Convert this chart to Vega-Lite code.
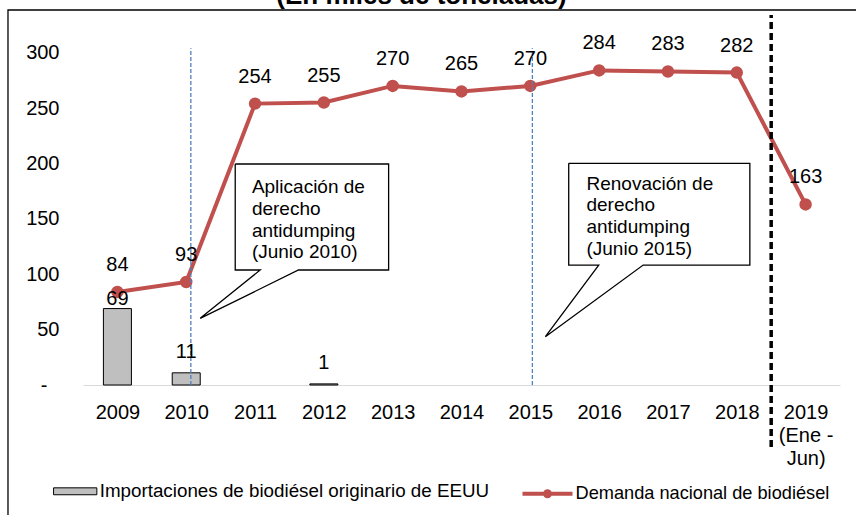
{
  "$schema": "https://vega.github.io/schema/vega-lite/v6.json",
  "width": 757,
  "height": 370,
  "autosize": {"type": "none"},
  "padding": {"left": 83, "top": 15, "right": 16, "bottom": 130},
  "background": "white",
  "title": {
    "text": "(En miles de toneladas)",
    "fontSize": 26,
    "fontWeight": "bold",
    "font": "Liberation Sans",
    "anchor": "middle",
    "frame": "group",
    "dx": -40,
    "offset": 0,
    "color": "black"
  },
  "datasets": {
    "imports": [
      {"year": 2009, "value": 69, "serie": "Importaciones de biodiésel originario de EEUU"},
      {"year": 2010, "value": 11, "serie": "Importaciones de biodiésel originario de EEUU"},
      {"year": 2012, "value": 1, "serie": "Importaciones de biodiésel originario de EEUU"}
    ],
    "demand": [
      {"year": 2009, "value": 84, "serie": "Demanda nacional de biodiésel"},
      {"year": 2010, "value": 93, "serie": "Demanda nacional de biodiésel"},
      {"year": 2011, "value": 254, "serie": "Demanda nacional de biodiésel"},
      {"year": 2012, "value": 255, "serie": "Demanda nacional de biodiésel"},
      {"year": 2013, "value": 270, "serie": "Demanda nacional de biodiésel"},
      {"year": 2014, "value": 265, "serie": "Demanda nacional de biodiésel"},
      {"year": 2015, "value": 270, "serie": "Demanda nacional de biodiésel"},
      {"year": 2016, "value": 284, "serie": "Demanda nacional de biodiésel"},
      {"year": 2017, "value": 283, "serie": "Demanda nacional de biodiésel"},
      {"year": 2018, "value": 282, "serie": "Demanda nacional de biodiésel"},
      {"year": 2019, "value": 163, "serie": "Demanda nacional de biodiésel"}
    ],
    "bluerules": [
      {"year": 2010.067, "low": 0, "high": 304},
      {"year": 2015.03, "low": 0, "high": 304}
    ],
    "blackrule": [
      {"year": 2018.5, "low": -56, "high": 334}
    ],
    "callouts": [
      {"id": 1, "ord": 1, "year": 2010.712, "value": 199.5},
      {"id": 1, "ord": 2, "year": 2012.941, "value": 199.5},
      {"id": 1, "ord": 3, "year": 2012.941, "value": 103.8},
      {"id": 1, "ord": 4, "year": 2011.632, "value": 103.8},
      {"id": 1, "ord": 5, "year": 2010.203, "value": 60.2},
      {"id": 1, "ord": 6, "year": 2011.075, "value": 103.8},
      {"id": 1, "ord": 7, "year": 2010.712, "value": 103.8},
      {"id": 1, "ord": 8, "year": 2010.712, "value": 199.5},
      {"id": 2, "ord": 1, "year": 2015.558, "value": 200.1},
      {"id": 2, "ord": 2, "year": 2018.19, "value": 200.1},
      {"id": 2, "ord": 3, "year": 2018.19, "value": 108.3},
      {"id": 2, "ord": 4, "year": 2016.64, "value": 108.3},
      {"id": 2, "ord": 5, "year": 2015.219, "value": 43.6},
      {"id": 2, "ord": 6, "year": 2015.994, "value": 108.3},
      {"id": 2, "ord": 7, "year": 2015.558, "value": 108.3},
      {"id": 2, "ord": 8, "year": 2015.558, "value": 200.1}
    ],
    "callouttext": [
      {"year": 2010.954, "value": 173.3, "label": "Aplicación de\nderecho\nantidumping\n(Junio 2010)"},
      {"year": 2015.816, "value": 176.3, "label": "Renovación de\nderecho\nantidumping\n(Junio 2015)"}
    ],
    "border": [
      {"x1": 2007.41, "x2": 2021.5, "y1": -250, "y2": 338.5}
    ]
  },
  "layer": [
    {
      "data": {"name": "imports"},
      "mark": {"type": "bar", "size": 28, "stroke": "black", "strokeWidth": 1},
      "encoding": {
        "x": {
          "field": "year", "type": "quantitative",
          "scale": {"domain": [2008.5, 2019.5], "nice": false, "zero": false, "padding": 0},
          "axis": {
            "title": null,
            "values": [2009, 2010, 2011, 2012, 2013, 2014, 2015, 2016, 2017, 2018, 2019],
            "format": "d",
            "labelExpr": "datum.value == 2019 ? ['2019', '(Ene -', 'Jun)'] : datum.label",
            "labelFontSize": 20,
            "labelFont": "Liberation Sans",
            "labelColor": "black",
            "labelPadding": 17,
            "labelLineHeight": 23.3,
            "labelFlush": false,
            "labelOverlap": false,
            "ticks": false,
            "grid": false,
            "domain": true,
            "domainColor": "#d9d9d9",
            "domainWidth": 1.2
          }
        },
        "y": {
          "field": "value", "type": "quantitative",
          "scale": {"domain": [0, 334], "nice": false, "padding": 0},
          "axis": {
            "title": null,
            "values": [0, 50, 100, 150, 200, 250, 300],
            "labelExpr": "datum.value == 0 ? '-' : datum.label",
            "labelFontSize": 20,
            "labelFont": "Liberation Sans",
            "labelColor": "black",
            "labelPadding": {"condition": {"test": "datum.value == 0", "value": 36}, "value": 24},
            "ticks": false,
            "grid": false,
            "domain": false
          }
        },
        "color": {
          "field": "serie", "type": "nominal",
          "scale": {
            "domain": ["Importaciones de biodiésel originario de EEUU"],
            "range": ["#bfbfbf"]
          },
          "legend": {
            "title": null,
            "orient": "none",
            "direction": "horizontal",
            "legendX": -30.3,
            "legendY": 453.8,
            "padding": 0,
            "symbolType": "M-1,-0.16H1V0.16H-1Z",
            "symbolSize": 1875,
            "symbolStrokeColor": "black",
            "symbolStrokeWidth": 1,
            "symbolOpacity": 1,
            "labelOffset": 2,
            "labelFontSize": 18.8,
            "labelFont": "Liberation Sans",
            "labelColor": "black",
            "labelLimit": 1000
          }
        }
      }
    },
    {
      "data": {"name": "demand"},
      "mark": {"type": "line", "strokeWidth": 4, "point": {"filled": true, "size": 110, "fill": "#c0504d"}},
      "encoding": {
        "x": {"field": "year", "type": "quantitative", "axis": {"title": null}},
        "y": {"field": "value", "type": "quantitative", "axis": {"title": null}},
        "stroke": {
          "field": "serie", "type": "nominal",
          "scale": {"domain": ["Demanda nacional de biodiésel"], "range": ["#c0504d"]},
          "legend": {
            "title": null,
            "orient": "none",
            "direction": "horizontal",
            "legendX": 437.5,
            "legendY": 451.7,
            "padding": 0,
            "symbolType": "M-1,0H1M0.1,0A0.1,0.1,0,1,1,-0.1,0A0.1,0.1,0,1,1,0.1,0",
            "symbolSize": 2500,
            "symbolStrokeWidth": 4,
            "symbolFillColor": "#c0504d",
            "symbolOpacity": 1,
            "labelOffset": 1,
            "labelFontSize": 18.2,
            "labelFont": "Liberation Sans",
            "labelColor": "black",
            "labelLimit": 1000
          }
        }
      }
    },
    {
      "data": {"name": "bluerules"},
      "mark": {"type": "rule", "color": "#4f81bd", "strokeWidth": 1.3, "strokeDash": [4, 2]},
      "encoding": {
        "x": {"field": "year", "type": "quantitative", "axis": {"title": null}},
        "y": {"field": "low", "type": "quantitative", "axis": {"title": null}},
        "y2": {"field": "high"}
      }
    },
    {
      "data": {"name": "demand"},
      "mark": {"type": "text", "dy": -27, "fontSize": 20, "font": "Liberation Sans", "baseline": "middle", "color": "black"},
      "encoding": {
        "x": {"field": "year", "type": "quantitative", "axis": {"title": null}},
        "y": {"field": "value", "type": "quantitative", "axis": {"title": null}},
        "text": {"field": "value", "type": "quantitative"}
      }
    },
    {
      "data": {"name": "imports"},
      "transform": [{"filter": "datum.year == 2009"}],
      "mark": {"type": "text", "dy": -10, "fontSize": 20, "font": "Liberation Sans", "baseline": "middle", "color": "black"},
      "encoding": {
        "x": {"field": "year", "type": "quantitative", "axis": {"title": null}},
        "y": {"field": "value", "type": "quantitative", "axis": {"title": null}},
        "text": {"field": "value", "type": "quantitative"}
      }
    },
    {
      "data": {"name": "imports"},
      "transform": [{"filter": "datum.year != 2009"}],
      "mark": {"type": "text", "dy": -21, "fontSize": 20, "font": "Liberation Sans", "baseline": "middle", "color": "black"},
      "encoding": {
        "x": {"field": "year", "type": "quantitative", "axis": {"title": null}},
        "y": {"field": "value", "type": "quantitative", "axis": {"title": null}},
        "text": {"field": "value", "type": "quantitative"}
      }
    },
    {
      "data": {"name": "blackrule"},
      "mark": {"type": "rule", "color": "black", "strokeWidth": 3.5, "strokeDash": [7, 4]},
      "encoding": {
        "x": {"field": "year", "type": "quantitative", "axis": {"title": null}},
        "y": {"field": "low", "type": "quantitative", "axis": {"title": null}},
        "y2": {"field": "high"}
      }
    },
    {
      "data": {"name": "callouts"},
      "mark": {"type": "line", "color": "black", "strokeWidth": 1.3},
      "encoding": {
        "x": {"field": "year", "type": "quantitative", "axis": {"title": null}},
        "y": {"field": "value", "type": "quantitative", "axis": {"title": null}},
        "detail": {"field": "id", "type": "nominal"},
        "order": {"field": "ord", "type": "quantitative"}
      }
    },
    {
      "data": {"name": "callouttext"},
      "mark": {"type": "text", "align": "left", "baseline": "alphabetic", "fontSize": 19, "font": "Liberation Sans", "lineBreak": "\n", "lineHeight": 21.8, "color": "black"},
      "encoding": {
        "x": {"field": "year", "type": "quantitative", "axis": {"title": null}},
        "y": {"field": "value", "type": "quantitative", "axis": {"title": null}},
        "text": {"field": "label", "type": "nominal"}
      }
    },
    {
      "data": {"name": "border"},
      "mark": {"type": "rect", "fill": null, "fillOpacity": 0, "stroke": "black", "strokeWidth": 1.3},
      "encoding": {
        "x": {"field": "x1", "type": "quantitative", "axis": {"title": null}},
        "x2": {"field": "x2"},
        "y": {"field": "y1", "type": "quantitative", "axis": {"title": null}},
        "y2": {"field": "y2"}
      }
    }
  ],
  "config": {
    "font": "Liberation Sans",
    "view": {"stroke": null}
  }
}
